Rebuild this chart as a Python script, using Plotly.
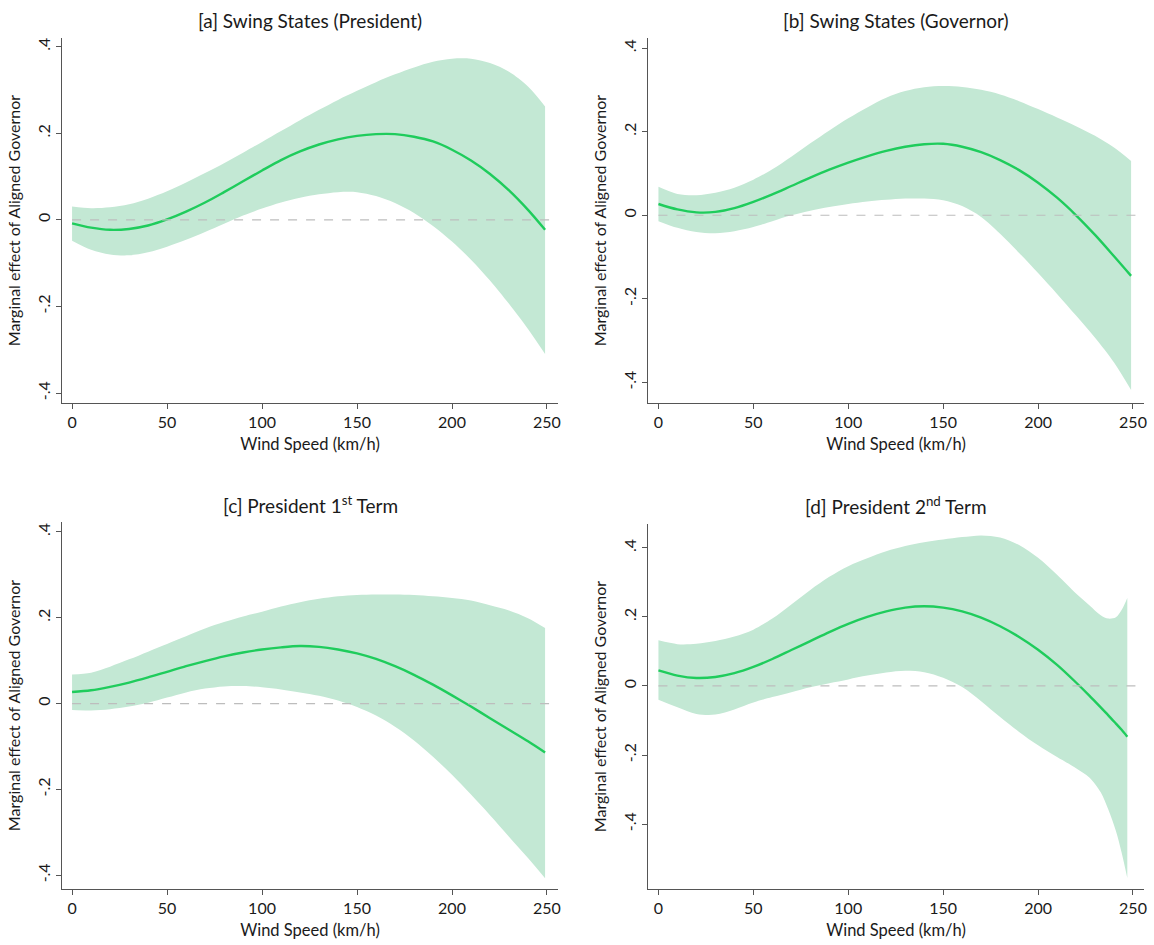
import plotly.graph_objects as go

# ---------------- data ----------------
x_abc = [0, 10, 20, 30, 40, 50, 60, 70, 80, 90, 100, 110, 120, 130, 140, 150,
         160, 170, 180, 190, 200, 210, 220, 230, 240, 249]

a_mid = [-0.008, -0.018, -0.023, -0.021, -0.013, 0.001, 0.019, 0.040, 0.064, 0.089, 0.114,
         0.138, 0.158, 0.174, 0.186, 0.194, 0.198, 0.198, 0.192, 0.181, 0.162, 0.137,
         0.106, 0.068, 0.023, -0.023]
a_hi = [0.031, 0.027, 0.029, 0.036, 0.049, 0.066, 0.086, 0.108, 0.131, 0.155, 0.180,
        0.205, 0.230, 0.254, 0.277, 0.298, 0.318, 0.336, 0.352, 0.365, 0.372, 0.372,
        0.362, 0.342, 0.308, 0.262]
a_lo = [-0.048, -0.069, -0.080, -0.082, -0.075, -0.062, -0.046, -0.028, -0.009, 0.010,
        0.026, 0.040, 0.051, 0.059, 0.064, 0.064, 0.055, 0.039, 0.016, -0.014, -0.050,
        -0.092, -0.140, -0.194, -0.252, -0.310]

b_mid = [0.027, 0.014, 0.007, 0.008, 0.017, 0.032, 0.050, 0.070, 0.090, 0.109, 0.126,
         0.141, 0.154, 0.164, 0.170, 0.171, 0.164, 0.151, 0.132, 0.108, 0.078, 0.042,
         0.000, -0.047, -0.098, -0.145]
b_hi = [0.068, 0.051, 0.048, 0.054, 0.066, 0.085, 0.110, 0.140, 0.172, 0.203, 0.232,
        0.258, 0.281, 0.297, 0.306, 0.309, 0.307, 0.300, 0.289, 0.273, 0.254, 0.234,
        0.213, 0.190, 0.162, 0.130]
b_lo = [-0.014, -0.030, -0.040, -0.043, -0.038, -0.028, -0.014, 0.000, 0.011, 0.020,
        0.027, 0.033, 0.037, 0.040, 0.040, 0.036, 0.022, -0.004, -0.044, -0.090, -0.138,
        -0.188, -0.240, -0.293, -0.352, -0.418]

c_mid = [0.027, 0.031, 0.039, 0.049, 0.061, 0.074, 0.087, 0.099, 0.110, 0.119, 0.126,
         0.131, 0.134, 0.132, 0.126, 0.117, 0.104, 0.087, 0.067, 0.044, 0.019, -0.007,
         -0.034, -0.061, -0.088, -0.114]
c_hi = [0.068, 0.072, 0.086, 0.103, 0.121, 0.139, 0.157, 0.175, 0.190, 0.203, 0.214,
        0.226, 0.236, 0.244, 0.250, 0.253, 0.254, 0.254, 0.253, 0.250, 0.246, 0.240,
        0.229, 0.217, 0.199, 0.176]
c_lo = [-0.015, -0.016, -0.013, -0.007, 0.002, 0.014, 0.026, 0.035, 0.040, 0.041, 0.038,
        0.033, 0.026, 0.018, 0.007, -0.008, -0.028, -0.054, -0.086, -0.124, -0.166,
        -0.212, -0.260, -0.310, -0.360, -0.407]

x_d = [0, 10, 20, 30, 40, 50, 60, 70, 80, 90, 100, 110, 120, 130, 140, 150, 160, 170,
       180, 190, 200, 210, 220, 227, 233, 237, 241, 244, 247]
d_mid = [0.045, 0.030, 0.023, 0.026, 0.037, 0.055, 0.078, 0.104, 0.130, 0.156, 0.180,
         0.200, 0.216, 0.227, 0.231, 0.227, 0.216, 0.198, 0.173, 0.142, 0.105, 0.061,
         0.010, -0.028, -0.062, -0.085, -0.109, -0.127, -0.147]
d_hi = [0.132, 0.121, 0.122, 0.130, 0.143, 0.163, 0.195, 0.236, 0.278, 0.316, 0.347,
        0.370, 0.390, 0.405, 0.416, 0.424, 0.431, 0.436, 0.430, 0.408, 0.371, 0.322,
        0.268, 0.234, 0.205, 0.195, 0.199, 0.220, 0.255]
d_lo = [-0.040, -0.062, -0.081, -0.083, -0.068, -0.048, -0.032, -0.018, -0.004, 0.008,
        0.019, 0.030, 0.039, 0.044, 0.040, 0.024, -0.003, -0.044, -0.090, -0.133, -0.172,
        -0.206, -0.238, -0.265, -0.308, -0.358, -0.420, -0.482, -0.556]

titles = ["[a] Swing States (President)", "[b] Swing States (Governor)",
          "[c] President 1<sup>st</sup> Term", "[d] President 2<sup>nd</sup> Term"]
x_ticks = [0, 50, 100, 150, 200, 250]
y_ticks = [-0.4, -0.2, 0, 0.2, 0.4]
y_ticktext = ["-.4", "-.2", "0", ".2", ".4"]
x_title = "Wind Speed (km/h)"
y_title = "Marginal effect of Aligned Governor"

panels = [
    (x_abc, a_mid, a_hi, a_lo),
    (x_abc, b_mid, b_hi, b_lo),
    (x_abc, c_mid, c_hi, c_lo),
    (x_d, d_mid, d_hi, d_lo),
]

# ---------------- layout geometry (pixels) ----------------
W, H = 1154, 945
boxes = [(62, 558, 38, 403), (648, 1144, 38, 403),
         (62, 558, 522, 889), (648, 1144, 524, 889)]
x_ranges = [[-5.3, 255.8], [-5.5, 255.8], [-5.3, 255.8], [-5.5, 255.8]]
y_ranges = [[-0.423, 0.42], [-0.449, 0.424], [-0.432, 0.423], [-0.588, 0.469]]

BAND = "#c3e8d4"
LINE = "#1fcc5c"
AX = "#555555"
TXT = "#1a1a1a"
FONT = "Lato"

fig = go.Figure()
layout = dict(width=W, height=H, margin=dict(l=0, r=0, t=0, b=0, autoexpand=False),
              paper_bgcolor="white", plot_bgcolor="white", showlegend=False,
              font=dict(family=FONT, color=TXT))
annotations = []
shapes = []

for i, (xs, mid, hi, lo) in enumerate(panels):
    n = "" if i == 0 else str(i + 1)
    xa, ya = "x" + n, "y" + n
    l, r, t, b = boxes[i]
    layout["xaxis" + n] = dict(
        domain=[l / W, r / W], range=x_ranges[i], anchor=ya, automargin=False,
        tickvals=x_ticks, ticks="outside", ticklen=5, tickcolor=AX, tickwidth=1,
        showline=True, linecolor=AX, linewidth=1, showgrid=False, zeroline=False,
        tickfont=dict(size=16, family=FONT, color=TXT),
        title=dict(text=x_title, font=dict(size=16.5, family=FONT, color=TXT), standoff=8),
    )
    layout["yaxis" + n] = dict(
        domain=[1 - b / H, 1 - t / H], range=y_ranges[i], anchor=xa, automargin=False,
        tickvals=y_ticks, ticktext=y_ticktext, tickangle=-90,
        ticks="outside", ticklen=5, tickcolor=AX, tickwidth=1,
        showline=True, linecolor=AX, linewidth=1, showgrid=False, zeroline=False,
        tickfont=dict(size=16, family=FONT, color=TXT),
        title=dict(text=y_title, font=dict(size=16, family=FONT, color=TXT), standoff=8),
    )
    fig.add_trace(go.Scatter(x=xs, y=hi, xaxis=xa, yaxis=ya, mode="lines",
                             line=dict(width=0, color=BAND, shape="spline", smoothing=0.9),
                             hoverinfo="skip"))
    fig.add_trace(go.Scatter(x=xs, y=lo, xaxis=xa, yaxis=ya, mode="lines",
                             line=dict(width=0, color=BAND, shape="spline", smoothing=0.9),
                             fill="tonexty", fillcolor=BAND, hoverinfo="skip"))
    shapes.append(dict(type="line", xref=xa, yref=ya, x0=0, x1=x_ranges[i][1], y0=0, y1=0,
                       line=dict(color="#bdbdbd", width=1.2, dash="dash"), layer="above"))
    fig.add_trace(go.Scatter(x=xs, y=mid, xaxis=xa, yaxis=ya, mode="lines",
                             line=dict(width=2.4, color=LINE, shape="spline", smoothing=0.9)))
    annotations.append(dict(text=titles[i], xref="paper", yref="paper",
                            x=(l + r) / 2 / W, y=1 - (t - 18) / H, xanchor="center",
                            yanchor="middle", showarrow=False,
                            font=dict(size=19, family=FONT, color=TXT)))

layout["annotations"] = annotations
layout["shapes"] = shapes
fig.update_layout(**layout)
fig.write_html("out.html", config={"displayModeBar": False},
               post_script="document.body.style.margin='0';document.body.style.overflow='hidden';")
